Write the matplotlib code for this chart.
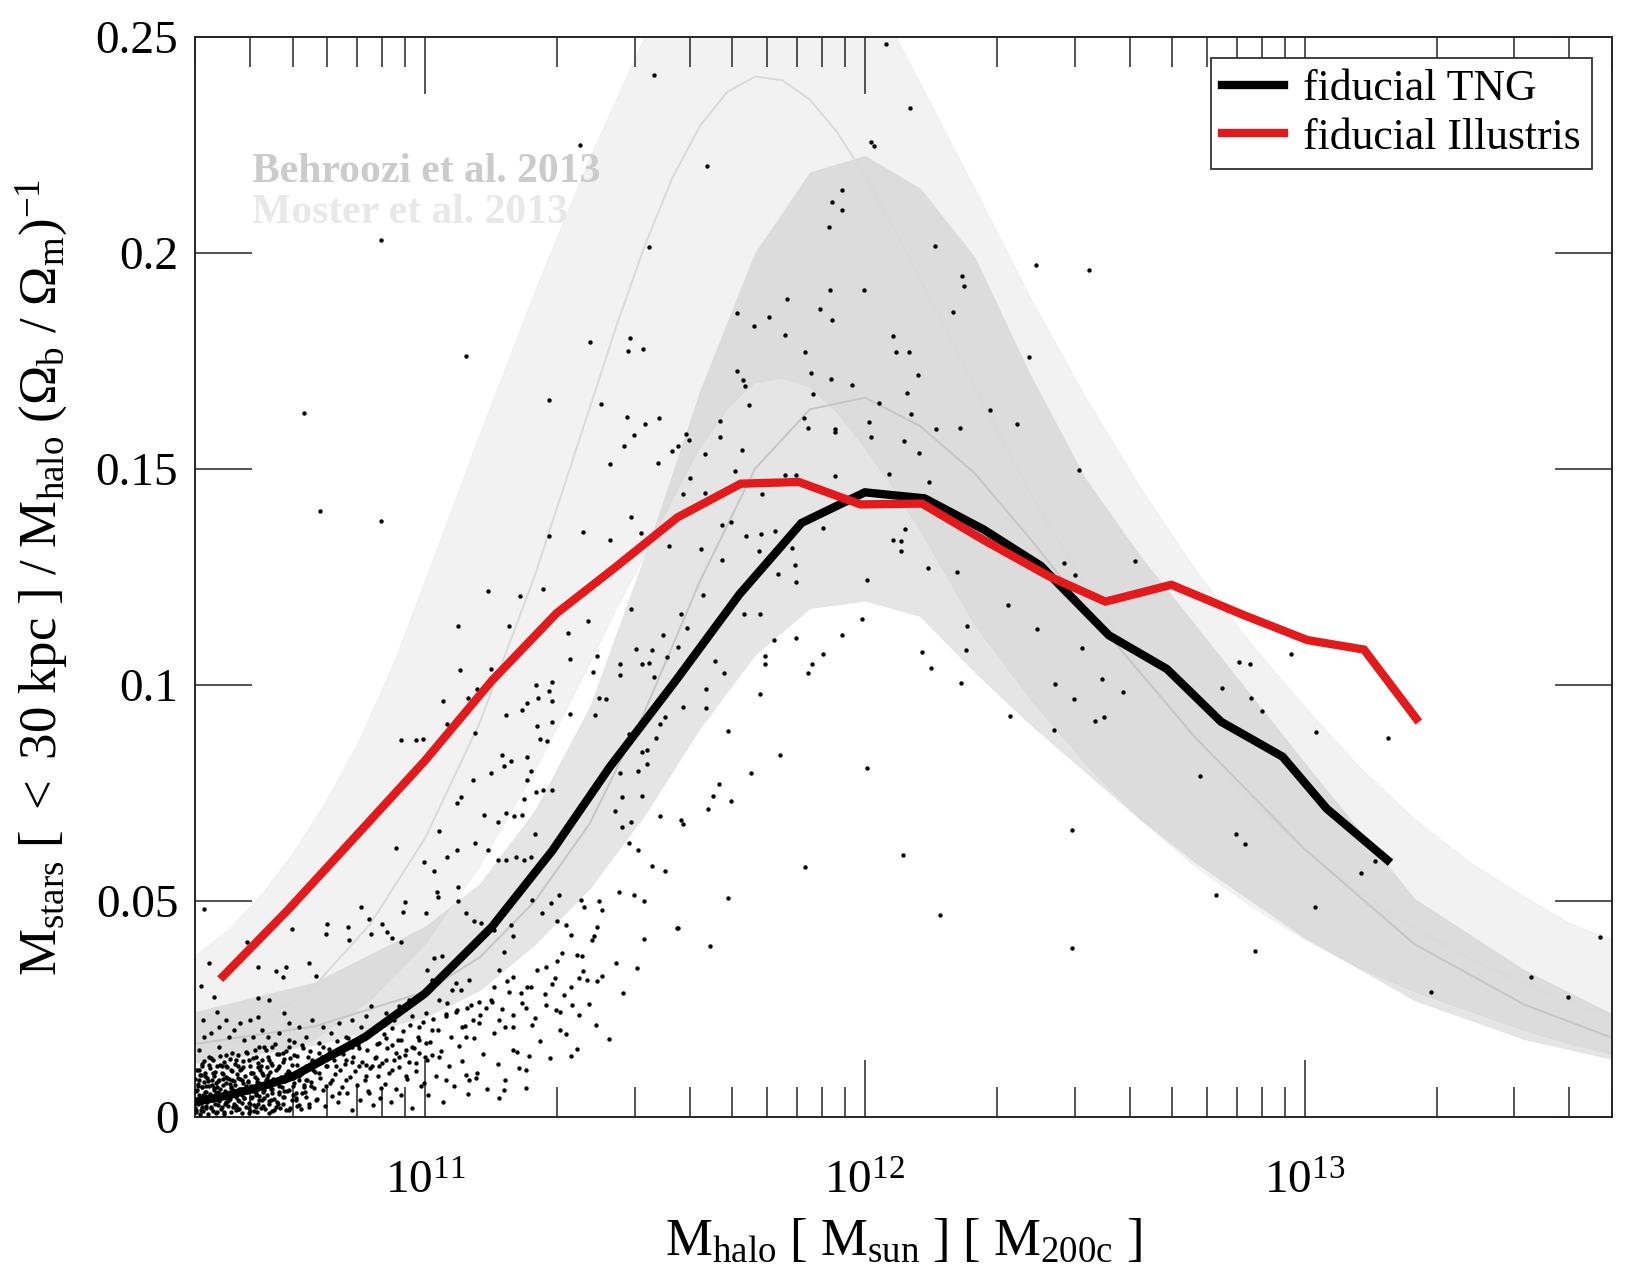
import numpy as np
import matplotlib
matplotlib.use("Agg")
import matplotlib.pyplot as plt
from matplotlib.ticker import LogLocator, NullLocator, NullFormatter, FixedLocator, FixedFormatter

plt.rcParams['font.family'] = ['Liberation Serif', 'DejaVu Serif']
plt.rcParams['mathtext.fontset'] = 'custom'
plt.rcParams['mathtext.rm'] = 'Liberation Serif'
plt.rcParams['mathtext.it'] = 'Liberation Serif:italic'
plt.rcParams['mathtext.bf'] = 'Liberation Serif:bold'

# --- simulation medians (log10 M200c, M*/Mhalo/fb) ---
tng_logm = [10.477, 10.547, 10.62, 10.698, 10.865, 11.0, 11.152, 11.289, 11.42, 11.57, 11.715,
            11.856, 12.0, 12.136, 12.27, 12.40, 12.555, 12.687, 12.81, 12.95, 13.05, 13.188]
tng_frac = [0.0035, 0.0049, 0.0068, 0.0093, 0.0186, 0.0286, 0.0440, 0.0616, 0.0810, 0.1010, 0.1210,
            0.1375, 0.1446, 0.1432, 0.1360, 0.1276, 0.1115, 0.1037, 0.0915, 0.0834, 0.0714, 0.0595]

ill_logm = [10.541, 10.689, 10.856, 11.0, 11.152, 11.299, 11.431, 11.574, 11.718, 11.85,
            11.99, 12.13, 12.273, 12.418, 12.547, 12.697, 12.861, 13.006, 13.135, 13.254]
ill_frac = [0.0326, 0.0480, 0.0665, 0.0825, 0.1010, 0.1166, 0.1271, 0.1388, 0.1466, 0.1470,
            0.1418, 0.1420, 0.1334, 0.1252, 0.1193, 0.1232, 0.1162, 0.1104, 0.1082, 0.0922]

# --- Moster et al. 2013 ---
moster_logm = [10.475, 10.6, 10.75, 10.875, 11.0, 11.125, 11.25, 11.375, 11.4375, 11.5, 11.5625,
               11.625, 11.6875, 11.75, 11.8125, 11.875, 11.9375, 12.0, 12.0625, 12.125, 12.25,
               12.375, 12.5, 12.625, 12.75, 12.875, 13.0, 13.125, 13.25, 13.375, 13.5, 13.6, 13.7]
moster_med = [0.0130, 0.0192, 0.0305, 0.0446, 0.0645, 0.0914, 0.1254, 0.1643, 0.1838, 0.2018, 0.2174,
              0.2294, 0.2373, 0.2408, 0.2400, 0.2355, 0.2279, 0.2179, 0.2064, 0.1942, 0.1689,
              0.1447, 0.1229, 0.1039, 0.0875, 0.0736, 0.0619, 0.0520, 0.0437, 0.0367, 0.0308, 0.0268, 0.0233]
moster_lo = [0.0075, 0.012, 0.018, 0.027, 0.040, 0.058, 0.080, 0.105, 0.118, 0.130, 0.143,
             0.155, 0.164, 0.170, 0.171, 0.169, 0.163, 0.155, 0.146, 0.136, 0.114,
             0.097, 0.082, 0.069, 0.058, 0.049, 0.041, 0.0345, 0.029, 0.0245, 0.020, 0.017, 0.0145]
moster_hi_logm = [10.475, 10.55, 10.625, 10.7, 10.775, 10.85, 10.925, 11.0, 11.125, 11.25, 11.375,
                  11.5, 11.625, 11.75, 11.875, 12.0, 12.077, 12.25, 12.375, 12.5, 12.625, 12.75,
                  12.875, 13.0, 13.125, 13.25, 13.375, 13.5, 13.6, 13.7]
moster_hi = [0.037, 0.043, 0.051, 0.061, 0.073, 0.087, 0.104, 0.124, 0.158, 0.191, 0.222,
             0.250, 0.275, 0.288, 0.285, 0.268, 0.249, 0.215, 0.190, 0.167, 0.146, 0.127,
             0.110, 0.095, 0.081, 0.069, 0.059, 0.051, 0.045, 0.041]

# --- Behroozi et al. 2013 ---
behroozi_logm = [10.475, 10.75, 11.0, 11.125, 11.25, 11.375, 11.5, 11.625, 11.75, 11.875, 12.0,
                 12.125, 12.25, 12.375, 12.5, 12.625, 12.75, 13.0, 13.25, 13.5, 13.7]
behroozi_hi = [0.0243, 0.0312, 0.0441, 0.054, 0.071, 0.095, 0.130, 0.168, 0.200, 0.2187, 0.2225,
               0.2150, 0.1990, 0.172, 0.148, 0.130, 0.114, 0.082, 0.0505, 0.034, 0.0238]
behroozi_med = [0.0169, 0.021, 0.029, 0.037, 0.050, 0.068, 0.094, 0.124, 0.150, 0.1638, 0.1665,
                0.160, 0.149, 0.134, 0.118, 0.103, 0.088, 0.062, 0.040, 0.026, 0.0183]
behroozi_lo = [0.0125, 0.0167, 0.0231, 0.0294, 0.040, 0.053, 0.070, 0.090, 0.107, 0.1178, 0.1195,
               0.1160, 0.103, 0.091, 0.080, 0.069, 0.059, 0.0415, 0.027, 0.018, 0.0134]

# --- individual TNG haloes (log10 M200c, ratio) ---
# packed core of the low-mass cloud
core_logm = [
    10.476, 10.478, 10.479, 10.481, 10.482, 10.484, 10.485, 10.487, 10.488, 10.490,
    10.491, 10.493, 10.494, 10.496, 10.497, 10.499, 10.500, 10.502, 10.503, 10.505,
    10.506, 10.508, 10.509, 10.511, 10.512, 10.514, 10.515, 10.517, 10.518, 10.520,
    10.521, 10.523, 10.524, 10.526, 10.527, 10.529, 10.530, 10.532, 10.533, 10.535,
    10.536, 10.538, 10.539, 10.541, 10.542, 10.544, 10.545, 10.547, 10.548, 10.550,
    10.551, 10.553, 10.554, 10.556, 10.557, 10.559, 10.560, 10.562, 10.563, 10.565,
    10.566, 10.568, 10.569, 10.571, 10.572, 10.574, 10.575, 10.577, 10.578, 10.580,
    10.581, 10.583, 10.584, 10.586, 10.587, 10.589, 10.590, 10.592, 10.593, 10.595,
    10.596, 10.598, 10.599, 10.601, 10.602, 10.604, 10.605, 10.607, 10.608, 10.610,
    10.611, 10.613, 10.614, 10.616, 10.617, 10.619, 10.620, 10.622, 10.623, 10.625,
    10.626, 10.628, 10.629, 10.631, 10.632, 10.634, 10.635, 10.637, 10.638, 10.640,
    10.641, 10.643, 10.644, 10.646, 10.647, 10.649, 10.651, 10.653, 10.655, 10.657,
    10.659, 10.661, 10.663, 10.665, 10.667, 10.669, 10.671, 10.673, 10.675, 10.677,
    10.679, 10.681, 10.683, 10.685, 10.688, 10.691, 10.694, 10.697, 10.700, 10.703,
    10.706, 10.710, 10.714, 10.718, 10.722, 10.726, 10.730, 10.735, 10.740, 10.745,
]
core_frac = [
    0.0042, 0.0088, 0.0017, 0.0063, 0.0110, 0.0029, 0.0076, 0.0051, 0.0008, 0.0097,
    0.0034, 0.0069, 0.0122, 0.0013, 0.0081, 0.0046, 0.0103, 0.0025, 0.0058, 0.0091,
    0.0006, 0.0072, 0.0039, 0.0114, 0.0053, 0.0021, 0.0086, 0.0131, 0.0044, 0.0067,
    0.0096, 0.0031, 0.0078, 0.0011, 0.0118, 0.0057, 0.0084, 0.0036, 0.0141, 0.0064,
    0.0019, 0.0101, 0.0049, 0.0073, 0.0127, 0.0008, 0.0061, 0.0092, 0.0035, 0.0115,
    0.0054, 0.0026, 0.0089, 0.0135, 0.0041, 0.0070, 0.0012, 0.0106, 0.0062, 0.0083,
    0.0030, 0.0122, 0.0075, 0.0047, 0.0099, 0.0018, 0.0143, 0.0066, 0.0038, 0.0087,
    0.0112, 0.0052, 0.0009, 0.0078, 0.0130, 0.0043, 0.0095, 0.0023, 0.0068, 0.0149,
    0.0057, 0.0084, 0.0033, 0.0119, 0.0015, 0.0072, 0.0101, 0.0046, 0.0137, 0.0062,
    0.0027, 0.0093, 0.0156, 0.0050, 0.0080, 0.0011, 0.0124, 0.0067, 0.0039, 0.0108,
    0.0075, 0.0022, 0.0133, 0.0059, 0.0097, 0.0044, 0.0162, 0.0018, 0.0085, 0.0116,
    0.0052, 0.0140, 0.0071, 0.0029, 0.0104, 0.0065, 0.0013, 0.0121, 0.0088, 0.0041,
    0.0168, 0.0079, 0.0034, 0.0113, 0.0058, 0.0145, 0.0021, 0.0092, 0.0069, 0.0127,
    0.0046, 0.0083, 0.0152, 0.0016, 0.0107, 0.0062, 0.0136, 0.0039, 0.0090, 0.0174,
    0.0055, 0.0121, 0.0028, 0.0099, 0.0160, 0.0073, 0.0047, 0.0138, 0.0082, 0.0109,
]

dots_low = [
    (10.498, 0.0482), (10.596, 0.0406), (10.509, 0.0356), (10.490, 0.0304), (10.521, 0.0277),
    (10.496, 0.0225), (10.527, 0.0243), (10.579, 0.0217), (10.621, 0.0275), (10.646, 0.0271),
    (10.602, 0.0225), (10.621, 0.0231), (10.644, 0.0186), (10.680, 0.0240), (10.661, 0.0337),
    (10.683, 0.0347), (10.676, 0.0325), (10.621, 0.0347), (10.736, 0.0356), (10.752, 0.0327),
    (10.697, 0.0436), (10.774, 0.0423), (10.778, 0.0446), (10.824, 0.0441), (10.827, 0.0410),
    (10.854, 0.0485), (10.873, 0.0459), (10.877, 0.0423), (10.903, 0.0446), (10.914, 0.0429),
    (10.926, 0.0414), (10.945, 0.0406), (10.950, 0.0474), (10.955, 0.0497), (11.003, 0.0472),
    (11.027, 0.0522), (11.030, 0.0509), (11.074, 0.0532), (11.076, 0.0499), (11.093, 0.0472),
    (11.111, 0.0453), (11.128, 0.0449), (11.156, 0.0433), (11.180, 0.0481), (11.195, 0.0445),
    (11.199, 0.0418), (11.244, 0.0503), (11.267, 0.0472), (11.286, 0.0495), (11.305, 0.0514),
    (11.301, 0.0453), (11.320, 0.0445), (11.354, 0.0503), (11.361, 0.0487), (11.396, 0.0499),
    (11.441, 0.0522), (11.475, 0.0514), (11.498, 0.0499), (11.574, 0.0437), (11.498, 0.0412),
    (11.483, 0.0345), (11.392, 0.0441), (11.384, 0.0418), (11.403, 0.0480), (11.380, 0.0410),
    (11.331, 0.0422), (11.346, 0.0375), (11.358, 0.0373), (11.312, 0.0379), (11.301, 0.0360),
    (11.289, 0.0308), (11.274, 0.0348), (11.255, 0.0341), (11.233, 0.0302), (11.199, 0.0325),
    (11.187, 0.0314), (11.180, 0.0383), (11.168, 0.0341), (11.157, 0.0302), (11.138, 0.0252),
    (11.153, 0.0267), (11.123, 0.0267), (11.096, 0.0252), (11.100, 0.0317), (11.081, 0.0294),
    (11.070, 0.0310), (11.062, 0.0294), (11.055, 0.0345), (11.039, 0.0372), (11.021, 0.0368),
    (11.005, 0.0341), (11.017, 0.0317), (11.032, 0.0271), (11.051, 0.0263), (11.047, 0.0233),
    (11.070, 0.0244), (11.085, 0.0209), (11.093, 0.0186), (11.108, 0.0225), (11.123, 0.0217),
    (11.168, 0.0225), (11.183, 0.0209), (11.199, 0.0236), (11.218, 0.0287), (11.229, 0.0252),
    (11.244, 0.0213), (11.274, 0.0260), (11.297, 0.0248), (11.316, 0.0283), (11.335, 0.0260),
    (11.350, 0.0321), (11.350, 0.0236), (11.369, 0.0318), (11.392, 0.0314), (11.308, 0.0202),
    (11.331, 0.0142), (11.236, 0.0142), (11.199, 0.0155), (11.214, 0.0113), (11.229, 0.0067),
    (11.180, 0.0063), (11.168, 0.0044), (11.100, 0.0086), (11.093, 0.0098), (11.115, 0.0090),
    (11.047, 0.0086), (11.032, 0.0140), (11.017, 0.0144), (10.998, 0.0078), (10.979, 0.0125),
    (10.964, 0.0128), (10.956, 0.0094), (10.926, 0.0167), (10.933, 0.0148), (10.945, 0.0179),
    (10.911, 0.0182), (10.896, 0.0171), (10.888, 0.0140), (10.899, 0.0067), (10.873, 0.0055),
    (10.865, 0.0121), (10.850, 0.0159), (10.835, 0.0128), (10.820, 0.0086), (10.805, 0.0055),
    (10.797, 0.0117), (10.782, 0.0148), (10.767, 0.0163), (10.759, 0.0101), (10.774, 0.0071),
    (10.752, 0.0040), (10.740, 0.0071), (10.729, 0.0117), (10.714, 0.0086), (10.702, 0.0144),
    (10.691, 0.0179), (10.676, 0.0148), (10.668, 0.0117), (10.661, 0.0086), (10.646, 0.0132),
    (10.630, 0.0101), (10.623, 0.0163), (10.615, 0.0055), (10.600, 0.0132), (10.585, 0.0086),
    (10.574, 0.0117), (10.562, 0.0148), (10.555, 0.0186), (10.547, 0.0078), (10.539, 0.0117),
    (10.532, 0.0163), (10.524, 0.0055), (10.517, 0.0101), (10.509, 0.0140), (10.502, 0.0071),
    (10.494, 0.0117), (10.486, 0.0086), (10.483, 0.0040), (10.490, 0.0016), (10.502, 0.0047),
    (10.513, 0.0024), (10.524, 0.0009), (10.539, 0.0024), (10.555, 0.0047), (10.570, 0.0016),
    (10.585, 0.0032), (10.600, 0.0009), (10.615, 0.0024), (10.630, 0.0040), (10.646, 0.0009),
    (10.661, 0.0024), (10.676, 0.0047), (10.691, 0.0016), (10.706, 0.0040), (10.721, 0.0055),
    (10.736, 0.0024), (10.486, 0.0155), (10.498, 0.0186), (10.513, 0.0194), (10.532, 0.0209),
    (10.547, 0.0225), (10.566, 0.0202), (10.589, 0.0179), (10.608, 0.0186), (10.630, 0.0202),
    (10.653, 0.0163), (10.668, 0.0194), (10.691, 0.0217), (10.714, 0.0209), (10.729, 0.0186),
    (10.744, 0.0225), (10.767, 0.0209), (10.786, 0.0194), (10.805, 0.0217), (10.820, 0.0186),
    (10.835, 0.0225), (10.854, 0.0209), (10.865, 0.0233), (10.877, 0.0256), (10.896, 0.0209),
    (10.911, 0.0240), (10.930, 0.0225), (10.941, 0.0256), (10.964, 0.0271), (10.971, 0.0233),
    (10.986, 0.0209), (11.002, 0.0240), (11.017, 0.0202), (11.002, 0.0171), (10.986, 0.0179),
    (10.494, 0.0024), (10.517, 0.0040), (10.532, 0.0086), (10.547, 0.0117), (10.562, 0.0086),
    (10.577, 0.0055), (10.593, 0.0071), (10.608, 0.0101), (10.623, 0.0078), (10.638, 0.0071),
    (10.653, 0.0055), (10.668, 0.0071), (10.683, 0.0086), (10.699, 0.0071), (10.714, 0.0101),
    (10.729, 0.0086), (10.744, 0.0132), (10.759, 0.0148), (10.774, 0.0117), (10.789, 0.0086),
    (10.805, 0.0148), (10.820, 0.0132), (10.835, 0.0163), (10.850, 0.0117), (10.865, 0.0094),
    (10.880, 0.0117), (10.896, 0.0117), (10.911, 0.0132), (10.926, 0.0109), (10.941, 0.0140),
    (10.956, 0.0155), (10.971, 0.0163), (10.986, 0.0148), (11.005, 0.0132),
    (10.480, 0.0060), (10.492, 0.0070), (10.505, 0.0035), (10.520, 0.0062), (10.530, 0.0040),
    (10.545, 0.0030), (10.560, 0.0068), (10.575, 0.0040), (10.590, 0.0060), (10.605, 0.0045),
    (10.620, 0.0030), (10.635, 0.0062), (10.650, 0.0040), (10.500, 0.0095), (10.540, 0.0100),
    (10.580, 0.0110), (10.620, 0.0115), (10.478, 0.0020), (10.487, 0.0110), (10.510, 0.0120),
    (10.665, 0.0030), (10.680, 0.0060), (10.700, 0.0050), (10.710, 0.0025), (10.725, 0.0070),
    (10.690, 0.0105), (10.640, 0.0090), (10.600, 0.0020), (10.570, 0.0025), (10.550, 0.0090),
    (10.515, 0.0075), (10.495, 0.0050),
]

dots_dense = [
    (10.479, 0.0012), (10.483, 0.0071), (10.488, 0.0098), (10.491, 0.0033), (10.497, 0.0129),
    (10.499, 0.0058), (10.503, 0.0021), (10.506, 0.0084), (10.511, 0.0046), (10.514, 0.0137),
    (10.518, 0.0015), (10.522, 0.0105), (10.526, 0.0069), (10.529, 0.0028), (10.533, 0.0121),
    (10.537, 0.0052), (10.541, 0.0089), (10.544, 0.0011), (10.548, 0.0143), (10.552, 0.0037),
    (10.556, 0.0076), (10.559, 0.0108), (10.563, 0.0024), (10.567, 0.0057), (10.571, 0.0132),
    (10.574, 0.0091), (10.578, 0.0018), (10.582, 0.0065), (10.586, 0.0116), (10.589, 0.0043),
    (10.593, 0.0150), (10.597, 0.0081), (10.601, 0.0031), (10.604, 0.0102), (10.608, 0.0060),
    (10.612, 0.0013), (10.616, 0.0139), (10.619, 0.0087), (10.623, 0.0048), (10.627, 0.0117),
    (10.631, 0.0026), (10.634, 0.0073), (10.638, 0.0155), (10.642, 0.0097), (10.646, 0.0036),
    (10.649, 0.0126), (10.653, 0.0066), (10.657, 0.0017), (10.661, 0.0109), (10.664, 0.0146),
    (10.668, 0.0053), (10.672, 0.0083), (10.676, 0.0029), (10.679, 0.0135), (10.683, 0.0100),
    (10.687, 0.0061), (10.691, 0.0161), (10.694, 0.0022), (10.698, 0.0120), (10.702, 0.0078),
    (10.706, 0.0044), (10.709, 0.0141), (10.713, 0.0095), (10.717, 0.0019), (10.721, 0.0166),
    (10.724, 0.0112), (10.728, 0.0057), (10.732, 0.0086), (10.736, 0.0031), (10.739, 0.0152),
    (10.743, 0.0127), (10.747, 0.0068), (10.751, 0.0104), (10.754, 0.0041), (10.758, 0.0172),
    (10.762, 0.0091), (10.766, 0.0138), (10.769, 0.0063), (10.773, 0.0025), (10.777, 0.0118),
    (10.781, 0.0158), (10.784, 0.0079), (10.788, 0.0049), (10.792, 0.0131), (10.796, 0.0099),
    (10.799, 0.0176), (10.803, 0.0034), (10.807, 0.0110), (10.811, 0.0070), (10.814, 0.0147),
    (10.818, 0.0123), (10.822, 0.0055), (10.826, 0.0183), (10.829, 0.0092), (10.833, 0.0016),
    (10.837, 0.0140), (10.841, 0.0106), (10.845, 0.0074), (10.848, 0.0167), (10.852, 0.0039),
    (10.856, 0.0128), (10.860, 0.0188), (10.863, 0.0085), (10.867, 0.0154), (10.871, 0.0060),
    (10.875, 0.0113), (10.879, 0.0197), (10.882, 0.0027), (10.886, 0.0136), (10.890, 0.0170),
    (10.894, 0.0094), (10.898, 0.0045), (10.902, 0.0124), (10.906, 0.0192), (10.910, 0.0077),
    (10.914, 0.0159), (10.918, 0.0101), (10.922, 0.0035), (10.926, 0.0205), (10.930, 0.0133),
    (10.934, 0.0066), (10.938, 0.0178), (10.942, 0.0115), (10.946, 0.0052), (10.950, 0.0199),
    (10.955, 0.0144), (10.960, 0.0088), (10.965, 0.0213), (10.970, 0.0022), (10.975, 0.0160),
    (10.980, 0.0107), (10.985, 0.0186), (10.990, 0.0071), (10.995, 0.0221), (11.000, 0.0139),
    (11.006, 0.0050), (11.012, 0.0174), (11.018, 0.0226), (11.024, 0.0096), (11.030, 0.0201),
    (11.036, 0.0153), (11.042, 0.0034), (11.048, 0.0239), (11.054, 0.0118), (11.060, 0.0185),
    (11.066, 0.0072), (11.072, 0.0247), (11.078, 0.0165), (11.084, 0.0129), (11.090, 0.0210),
    (11.097, 0.0054), (11.104, 0.0259), (11.111, 0.0182), (11.118, 0.0103), (11.125, 0.0236),
    (11.133, 0.0147), (11.141, 0.0066), (11.149, 0.0271), (11.157, 0.0195), (11.165, 0.0122),
    (11.174, 0.0250), (11.183, 0.0085), (11.192, 0.0289), (11.201, 0.0208), (11.210, 0.0151),
    (11.220, 0.0263), (11.230, 0.0110), (11.240, 0.0301), (11.250, 0.0230), (11.261, 0.0176),
    (11.272, 0.0285), (11.284, 0.0136), (11.296, 0.0322), (11.308, 0.0244), (11.320, 0.0193),
    (11.333, 0.0300), (11.346, 0.0158), (11.360, 0.0338), (11.374, 0.0262), (11.388, 0.0214),
    (11.403, 0.0327), (11.418, 0.0181), (11.434, 0.0356), (11.450, 0.0286),
]

dots_mid = [
    (11.144, 0.1217), (11.216, 0.1205), (11.268, 0.1222), (11.190, 0.1137), (11.075, 0.1137),
    (11.080, 0.1035), (11.149, 0.1037), (11.041, 0.0963), (10.946, 0.0872), (10.979, 0.0872),
    (10.995, 0.0874), (11.113, 0.0890), (11.051, 0.0910), (11.098, 0.0971), (11.118, 0.0991),
    (11.185, 0.0930), (11.221, 0.0942), (11.232, 0.0959), (11.257, 0.0971), (11.252, 0.0999),
    (11.288, 0.1007), (11.283, 0.0987), (11.288, 0.0963), (11.254, 0.0906), (11.288, 0.0914),
    (11.278, 0.0870), (11.262, 0.0874), (11.232, 0.0833), (11.175, 0.0837), (11.196, 0.0825),
    (11.180, 0.0813), (11.149, 0.0797), (11.242, 0.0801), (11.232, 0.0781), (11.288, 0.0756),
    (11.268, 0.0756), (11.252, 0.0752), (11.226, 0.0736), (11.221, 0.0700), (11.202, 0.0696),
    (11.185, 0.0704), (11.165, 0.0683), (11.134, 0.0700), (11.108, 0.0781), (11.082, 0.0740),
    (11.072, 0.0728), (11.031, 0.0663), (10.933, 0.0623), (10.997, 0.0590), (11.021, 0.0570),
    (11.051, 0.0603), (11.072, 0.0619), (11.113, 0.0635), (11.144, 0.0619), (11.165, 0.0594),
    (11.185, 0.0594), (11.206, 0.0603), (11.226, 0.0594), (11.242, 0.0603), (11.249, 0.0655),
    (11.288, 0.0619), (11.329, 0.0934), (11.329, 0.1060), (11.324, 0.1120), (11.370, 0.1149),
    (11.391, 0.1068), (11.381, 0.1031), (11.386, 0.0930), (11.396, 0.0971), (11.412, 0.0967),
    (11.443, 0.1048), (11.443, 0.1023), (11.468, 0.1177), (11.479, 0.1084), (11.494, 0.1048),
    (11.509, 0.1052), (11.515, 0.1080), (11.520, 0.1019), (11.540, 0.1116), (11.551, 0.1064),
    (11.576, 0.1088), (11.582, 0.1165), (11.595, 0.1132), (11.618, 0.1080), (11.633, 0.1209),
    (11.638, 0.0991), (11.638, 0.0946), (11.659, 0.1056), (11.679, 0.1027), (11.587, 0.0950),
    (11.546, 0.0926), (11.535, 0.0910), (11.525, 0.0878), (11.504, 0.0849), (11.494, 0.0845),
    (11.504, 0.0817), (11.484, 0.0801), (11.443, 0.0797), (11.463, 0.0886), (11.448, 0.0740),
    (11.432, 0.0708), (11.448, 0.0671), (11.463, 0.0635), (11.484, 0.0619), (11.515, 0.0582),
    (11.546, 0.0570), (11.576, 0.0437), (11.582, 0.0688), (11.587, 0.0679), (11.535, 0.0696),
    (11.494, 0.0744), (11.468, 0.0683), (11.648, 0.0396), (11.643, 0.0712), (11.654, 0.0744),
    (11.669, 0.0772), (11.695, 0.0732), (11.690, 0.0894), (11.690, 0.0506), (11.741, 0.0797),
    (11.762, 0.0979), (11.772, 0.1068), (11.772, 0.1048), (11.793, 0.1104), (11.808, 0.0837),
    (11.844, 0.1108), (11.870, 0.1027), (11.880, 0.1048), (11.906, 0.1072), (11.865, 0.0578),
    (11.947, 0.1116), (11.993, 0.1153), (12.004, 0.1242), (12.004, 0.0809), (12.086, 0.0607),
    (11.726, 0.1165), (11.762, 0.1165), (11.844, 0.1238), (11.803, 0.1258),
    (12.209, 0.1262), (12.479, 0.1254), (12.325, 0.1185), (12.232, 0.1137), (12.230, 0.1082),
    (12.131, 0.1076), (12.151, 0.1039), (12.219, 0.1005), (12.391, 0.1130), (12.494, 0.1086),
    (12.433, 0.1003), (12.476, 0.0968), (12.331, 0.0929), (12.431, 0.0895), (12.523, 0.0916),
    (12.543, 0.0925), (12.540, 0.1014), (12.588, 0.0983), (12.812, 0.0993), (12.851, 0.1054),
    (12.875, 0.1049), (12.879, 0.0971), (12.904, 0.0939), (12.970, 0.1072), (13.025, 0.0892),
    (13.190, 0.0878), (12.761, 0.0789), (12.471, 0.0664), (12.843, 0.0655), (12.864, 0.0632),
    (12.171, 0.0467), (12.799, 0.0514), (13.024, 0.0485), (13.128, 0.0566), (13.161, 0.0593),
    (12.470, 0.0392), (12.887, 0.0384), (13.287, 0.0289), (13.514, 0.0325), (13.599, 0.0277),
    (13.671, 0.0416),
]

dots_high = [
    (11.352, 0.2250), (11.521, 0.2412), (11.641, 0.2201), (11.509, 0.2013), (10.899, 0.2029),
    (11.094, 0.1761), (10.724, 0.1630), (10.761, 0.1402), (10.901, 0.1380), (11.281, 0.1659),
    (11.375, 0.1793), (11.466, 0.1803), (11.461, 0.1773), (11.495, 0.1778), (11.401, 0.1651),
    (11.459, 0.1621), (11.476, 0.1579), (11.501, 0.1603), (11.531, 0.1619), (11.453, 0.1554),
    (11.420, 0.1511), (11.530, 0.1514), (11.561, 0.1541), (11.576, 0.1553), (11.594, 0.1580),
    (11.601, 0.1568), (11.671, 0.1612), (11.671, 0.1575), (11.636, 0.1535), (11.724, 0.1705),
    (11.728, 0.1692), (11.736, 0.1647), (11.710, 0.1727), (11.720, 0.1545), (11.704, 0.1495),
    (11.783, 0.1851), (11.818, 0.1810), (11.824, 0.1894), (11.749, 0.1830), (11.710, 0.1862),
    (11.864, 0.1770), (11.878, 0.1723), (11.898, 0.1871), (11.925, 0.1846), (11.920, 0.1914),
    (11.998, 0.1915), (11.882, 0.1674), (11.923, 0.1709), (11.971, 0.1695), (11.862, 0.1617),
    (11.870, 0.1595), (11.932, 0.1593), (11.933, 0.1585), (12.010, 0.1608), (12.015, 0.1575),
    (12.032, 0.1653), (12.063, 0.1808), (12.071, 0.1771), (11.949, 0.2145), (11.926, 0.2117),
    (11.948, 0.2099), (11.918, 0.2061), (12.014, 0.2258), (12.022, 0.2247), (12.048, 0.2484),
    (11.819, 0.1487), (11.844, 0.1487), (11.933, 0.1483), (12.054, 0.1489), (11.767, 0.1442),
    (11.587, 0.1442), (11.637, 0.1444), (11.602, 0.1479), (11.904, 0.1364), (11.730, 0.1344),
    (11.765, 0.1349), (11.796, 0.1356), (11.675, 0.1370), (11.695, 0.1378), (11.554, 0.1322),
    (11.628, 0.1314), (11.420, 0.1336), (11.360, 0.1354), (11.281, 0.1344), (11.469, 0.1390),
    (11.492, 0.1353), (11.675, 0.1290), (11.760, 0.1310), (11.834, 0.1316), (11.842, 0.1278),
    (12.065, 0.1336), (12.083, 0.1310),
    (12.103, 0.2335), (12.159, 0.2016), (12.221, 0.1946), (12.225, 0.1923), (12.201, 0.1863),
    (12.390, 0.1972), (12.510, 0.1960), (12.100, 0.1771), (12.120, 0.1718), (12.096, 0.1675),
    (12.105, 0.1627), (12.161, 0.1593), (12.217, 0.1596), (12.285, 0.1637), (12.345, 0.1603),
    (12.373, 0.1760), (12.488, 0.1498), (12.090, 0.1564), (12.123, 0.1537), (12.146, 0.1471),
    (12.092, 0.1362), (12.082, 0.1334), (12.144, 0.1270), (12.452, 0.1282), (12.614, 0.1286),
]

y_ticks = [0, 0.05, 0.1, 0.15, 0.2, 0.25]
y_tick_labels = ['0', '0.05', '0.1', '0.15', '0.2', '0.25']


def main():
    fig = plt.figure(figsize=(16.5, 12.75), dpi=100)
    ax = fig.add_axes([0.1182, 0.1239, 0.8588, 0.8471])

    mm = 10 ** np.array(moster_logm)
    mm_hi = 10 ** np.array(moster_hi_logm)
    bm = 10 ** np.array(behroozi_logm)

    # Moster band (light): upper edge out, lower edge back
    poly_x = np.concatenate([mm_hi, mm[::-1]])
    poly_y = np.concatenate([moster_hi, np.array(moster_lo)[::-1]])
    ax.fill(poly_x, poly_y, facecolor='#d4d4d4', alpha=0.3, edgecolor='#e4e4e4',
            linewidth=0.8, zorder=1)
    # Behroozi band (darker)
    ax.fill_between(bm, behroozi_lo, behroozi_hi, color='#ababab', alpha=0.31,
                    linewidth=0.8, edgecolor='#d6d6d6', zorder=1.1)
    ax.plot(mm, moster_med, color='#dadada', lw=1.4, zorder=1.2)
    ax.plot(bm, behroozi_med, color='#c6c6c6', lw=1.4, zorder=1.2)

    ax.scatter(10 ** np.array(core_logm), core_frac, s=10, c='black', linewidths=0, zorder=3)
    for dots in (dots_dense, dots_low, dots_mid, dots_high):
        d = np.array(dots)
        ax.scatter(10 ** d[:, 0], d[:, 1], s=10, c='black', linewidths=0, zorder=3)

    ax.plot(10 ** np.array(tng_logm), tng_frac, color='black', lw=6,
            solid_joinstyle='miter', label='fiducial TNG', zorder=4)
    ax.plot(10 ** np.array(ill_logm), ill_frac, color='#e31a1c', lw=6,
            solid_joinstyle='miter', label='fiducial Illustris', zorder=4)

    ax.text(0.0402, 0.8657, 'Behroozi et al. 2013', transform=ax.transAxes, fontsize=30,
            fontweight='bold', color='#cbcbcb', va='baseline', ha='left', zorder=5)
    ax.text(0.0402, 0.8278, 'Moster et al. 2013', transform=ax.transAxes, fontsize=30,
            fontweight='bold', color='#e8e8e8', va='baseline', ha='left', zorder=5)

    ax.set_xscale('log')
    ax.set_xlim(3e10, 5e13)
    ax.set_ylim(0, 0.25)

    ax.xaxis.set_major_locator(LogLocator(base=10, numticks=10))
    ax.xaxis.set_minor_locator(LogLocator(base=10, subs=np.arange(2, 10), numticks=20))
    ax.xaxis.set_minor_formatter(NullFormatter())
    ax.yaxis.set_major_locator(FixedLocator(y_ticks))
    ax.yaxis.set_major_formatter(FixedFormatter(y_tick_labels))
    ax.yaxis.set_minor_locator(NullLocator())

    ax.tick_params(which='major', direction='in', length=41, width=1.1, color='#262626',
                   top=True, right=True, labelsize=34)
    ax.tick_params(which='minor', direction='in', length=21.5, width=1.1, color='#262626',
                   top=True, right=True)
    ax.tick_params(axis='x', which='major', pad=32)
    ax.tick_params(axis='y', which='major', pad=12)
    for s in ax.spines.values():
        s.set_linewidth(1.4)
        s.set_color('#262626')

    ax.set_xlabel(r'$\mathrm{M_{halo}\ [\ M_{sun}\ ]\ [\ M_{200c}\ ]}$', fontsize=38, labelpad=10)
    ax.set_ylabel(r'$\mathrm{M_{stars}\ [\ <\ 30\ kpc\ ]\ /\ M_{halo}\ (Ω_b\ /\ Ω_m)^{-1}}$',
                  fontsize=38)
    ax.yaxis.set_label_coords(-0.088, 0.5)

    leg = ax.legend(loc='upper right', bbox_to_anchor=(0.9859, 0.9806), borderaxespad=0,
                    fontsize=31.5, frameon=True, fancybox=False, framealpha=1,
                    handlelength=1.42, handletextpad=0.45, borderpad=0.25, labelspacing=0.2)
    leg.get_frame().set_edgecolor('#333333')
    leg.get_frame().set_linewidth(1.3)
    leg.set_zorder(6)

    png = "out.png"
    fig.savefig(png, dpi=100)
    print(f"plot saved as {png}")


if __name__ == "__main__":
    main()
